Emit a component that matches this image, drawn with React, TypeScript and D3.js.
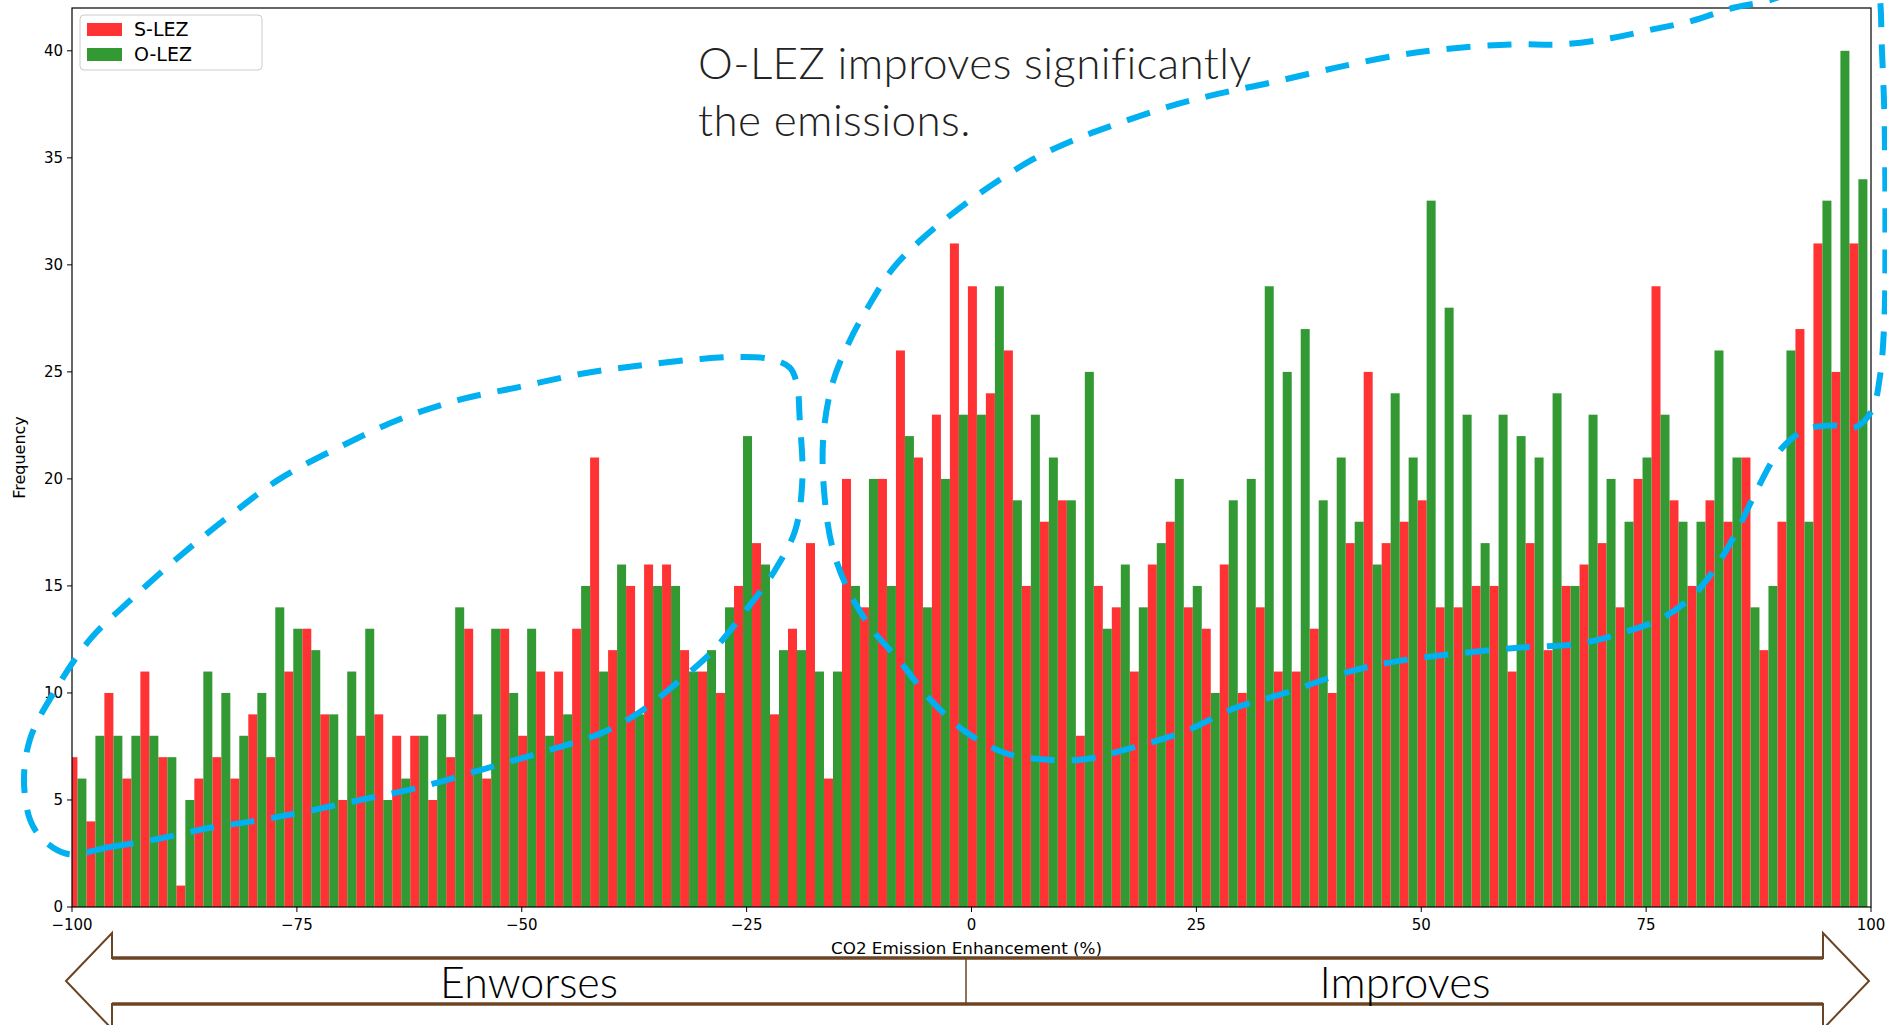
import React from 'react';
import * as d3 from 'd3';

// ---------- data ----------
const binStart = -100.4;
const binWidth = 2;
const sLez = [
  7, 4, 10, 6, 11, 7, 1, 6, 7, 6,
  9, 7, 11, 13, 9, 5, 8, 9, 8, 8,
  5, 7, 13, 6, 13, 8, 11, 11, 13, 21,
  12, 15, 16, 16, 12, 11, 10, 15, 17, 9,
  13, 17, 6, 20, 14, 20, 26, 21, 23, 31,
  29, 24, 26, 15, 18, 19, 8, 15, 14, 11,
  16, 18, 14, 13, 16, 10, 14, 11, 11, 13,
  10, 17, 25, 17, 18, 19, 14, 14, 15, 15,
  11, 17, 12, 15, 16, 17, 14, 20, 29, 19,
  15, 19, 18, 21, 12, 18, 27, 31, 25, 31,
];
const oLez = [
  6, 8, 8, 8, 8, 7, 5, 11, 10, 8,
  10, 14, 13, 12, 9, 11, 13, 5, 6, 8,
  9, 14, 9, 13, 10, 13, 8, 9, 15, 11,
  16, 9, 15, 15, 11, 12, 14, 22, 16, 12,
  12, 11, 11, 15, 20, 15, 22, 14, 20, 23,
  23, 29, 19, 23, 21, 19, 25, 13, 16, 14,
  17, 20, 15, 10, 19, 20, 29, 25, 27, 19,
  21, 18, 16, 24, 21, 33, 28, 23, 17, 23,
  22, 21, 24, 15, 23, 20, 18, 21, 23, 18,
  18, 26, 21, 14, 15, 26, 18, 33, 40, 34,
];
const seriesNames = ['S-LEZ', 'O-LEZ'];
const seriesColors = ['#ff3333', '#339933'];
const xTicks = [-100, -75, -50, -25, 0, 25, 50, 75, 100];
const yTicks = [0, 5, 10, 15, 20, 25, 30, 35, 40];
const xLabel = 'CO2 Emission Enhancement (%)';
const yLabel = 'Frequency';
const noteLines = ['O-LEZ improves significantly', 'the emissions.'];
const arrowLabels = ['Enworses', 'Improves'];

// hand-drawn annotation loops, in data units (x: %, y: frequency)
const leftLoop: [number, number][] = [
  [-100.7, 2.5], [-95.8, 2.8], [-90.2, 3.2], [-84.7, 3.7], [-80.0, 4.0], [-74.7, 4.4],
  [-68.0, 5.0], [-61.3, 5.6], [-54.6, 6.4], [-48.0, 7.2], [-41.3, 8.1], [-36.9, 9.1],
  [-32.4, 10.6], [-28.9, 11.9], [-25.2, 13.8], [-21.9, 15.7], [-19.6, 17.6], [-18.8, 20.0],
  [-19.1, 22.8], [-19.4, 24.4], [-20.2, 25.2], [-22.4, 25.6], [-25.7, 25.7], [-30.2, 25.6],
  [-36.9, 25.3], [-43.5, 24.9], [-50.2, 24.3], [-56.9, 23.7], [-63.5, 22.8], [-70.2, 21.5],
  [-76.9, 20.0], [-82.4, 18.3], [-88.0, 16.4], [-93.6, 14.3], [-98.0, 12.5], [-101.9, 10.1],
  [-104.7, 7.8], [-105.3, 5.5], [-104.1, 3.6],
];
const rightLoop: [number, number][] = [
  [95.4, 43.5], [89.0, 42.4], [84.6, 42.0], [80.1, 41.4], [75.7, 41.0], [71.2, 40.6],
  [65.7, 40.3], [60.1, 40.3], [53.1, 40.1], [47.5, 39.8], [40.4, 39.2], [33.1, 38.5],
  [27.5, 38.0], [22.0, 37.4], [15.6, 36.5], [11.2, 35.8], [6.7, 34.9], [0.1, 33.1],
  [-5.8, 31.1], [-8.8, 29.8], [-11.4, 28.1], [-13.6, 26.4], [-15.5, 24.4], [-16.5, 21.8],
  [-16.3, 19.0], [-15.4, 16.7], [-13.7, 14.8], [-11.1, 13.0], [-8.0, 11.5], [-4.6, 9.7],
  [-0.7, 8.2], [3.7, 7.2], [7.8, 6.9], [12.6, 6.9], [17.5, 7.4], [23.7, 8.2], [29.3, 9.3],
  [34.9, 10.0], [42.0, 11.0], [47.5, 11.5], [53.1, 11.8], [60.4, 12.1], [67.5, 12.3],
  [72.3, 12.8], [76.8, 13.5], [80.1, 14.5], [82.3, 15.6], [84.9, 17.4], [87.1, 19.3],
  [89.8, 21.3], [92.7, 22.3], [95.7, 22.5], [98.2, 22.4], [100.1, 23.2], [101.0, 24.8],
  [101.5, 27.6], [101.6, 31.4], [101.5, 36.9], [101.2, 40.2], [101.0, 42.4], [100.4, 43.8],
];

// ---------- layout ----------
const W = 1887;
const H = 1025;
const plot = { left: 72, right: 1871, top: 8, bottom: 907 };
const arrow = { tipL: 66, baseL: 112, baseR: 1823, tipR: 1869, mid: 981, headHalf: 48, shaftHalf: 23, divider: 966 };

export default function App() {
  const x = d3.scaleLinear().domain([-100, 100]).range([plot.left, plot.right]);
  const y = d3.scaleLinear().domain([0, 42]).range([plot.bottom, plot.top]);
  const fmt = d3.format('d');
  const series = [sLez, oLez];
  const half = binWidth / 2;

  const leftPath = d3.line<[number, number]>().x(d => x(d[0])).y(d => y(d[1]))
    .curve(d3.curveCatmullRomClosed.alpha(0.5))(leftLoop) || '';
  const rightPath = d3.line<[number, number]>().x(d => x(d[0])).y(d => y(d[1]))
    .curve(d3.curveCatmullRom.alpha(0.5))(rightLoop) || '';

  const a = arrow;
  const arrowOutline = [
    [a.tipL, a.mid], [a.baseL, a.mid - a.headHalf], [a.baseL, a.mid - a.shaftHalf],
    [a.baseR, a.mid - a.shaftHalf], [a.baseR, a.mid - a.headHalf], [a.tipR, a.mid],
    [a.baseR, a.mid + a.headHalf], [a.baseR, a.mid + a.shaftHalf], [a.baseL, a.mid + a.shaftHalf],
    [a.baseL, a.mid + a.headHalf],
  ].map(p => p.join(',')).join(' ');

  const tickFont = 'DejaVu Sans, sans-serif';
  const thinFont = "Lato, 'Open Sans', sans-serif";

  return (
    <div>
      <style>{'body{margin:0}'}</style>
      <svg width={W} height={H} style={{ display: 'block', background: '#fff' }}>
        <defs>
          <clipPath id="plotclip">
            <rect x={plot.left} y={plot.top} width={plot.right - plot.left} height={plot.bottom - plot.top} />
          </clipPath>
        </defs>

        {/* bars */}
        <g clipPath="url(#plotclip)">
          {series.map((vals, s) =>
            vals.map((v, k) => {
              const x0 = binStart + binWidth * k + s * half;
              return (
                <rect
                  key={`${s}-${k}`}
                  x={x(x0)}
                  y={y(v)}
                  width={x(x0 + half) - x(x0)}
                  height={y(0) - y(v)}
                  fill={seriesColors[s]}
                />
              );
            })
          )}
        </g>

        {/* frame */}
        <rect x={plot.left} y={plot.top} width={plot.right - plot.left} height={plot.bottom - plot.top}
          fill="none" stroke="#000" strokeWidth={1.2} />

        {/* x ticks */}
        {xTicks.map(t => (
          <g key={`xt${t}`}>
            <line x1={x(t)} x2={x(t)} y1={plot.bottom} y2={plot.bottom + 5} stroke="#000" strokeWidth={1} />
            <text x={x(t)} y={plot.bottom + 23} textAnchor="middle" fontFamily={tickFont} fontSize={15} fill="#000">
              {fmt(t)}
            </text>
          </g>
        ))}
        {/* y ticks */}
        {yTicks.map(t => (
          <g key={`yt${t}`}>
            <line x1={plot.left - 5} x2={plot.left} y1={y(t)} y2={y(t)} stroke="#000" strokeWidth={1} />
            <text x={plot.left - 9} y={y(t)} dy="0.35em" textAnchor="end" fontFamily={tickFont} fontSize={15} fill="#000">
              {fmt(t)}
            </text>
          </g>
        ))}
        <text x={(plot.left + plot.right) / 2 - 5} y={954} textAnchor="middle" fontFamily={tickFont} fontSize={15}
          textLength={271} lengthAdjust="spacingAndGlyphs" fill="#000">
          {xLabel}
        </text>
        <text transform={`translate(25,${(plot.top + plot.bottom) / 2}) rotate(-90)`} textAnchor="middle"
          fontFamily={tickFont} fontSize={16} fill="#000">
          {yLabel}
        </text>

        {/* legend */}
        <g>
          <rect x={80} y={15} width={182} height={55} rx={4} fill="#fff" fillOpacity={0.8} stroke="#cccccc" />
          {seriesNames.map((n, i) => (
            <g key={n}>
              <rect x={87} y={23 + i * 25} width={35} height={13} fill={seriesColors[i]} />
              <text x={134} y={36 + i * 25} fontFamily={tickFont} fontSize={19} fill="#000">{n}</text>
            </g>
          ))}
        </g>

        {/* annotation note */}
        {noteLines.map((t, i) => (
          <text key={t} x={698} y={79 + i * 57} fontFamily={thinFont} fontWeight={300}
            fontSize={44} letterSpacing={0.4} fill="#222">
            {t}
          </text>
        ))}

        {/* dashed loops */}
        <path d={leftPath} fill="none" stroke="#00b0f0" strokeWidth={6} strokeDasharray="24 17" />
        <path d={rightPath} fill="none" stroke="#00b0f0" strokeWidth={6} strokeDasharray="24 17" />

        {/* bottom double arrow */}
        <polygon points={arrowOutline} fill="#fff" stroke="#6b4423" strokeWidth={2} strokeLinejoin="miter" />
        <line x1={a.baseL} x2={a.baseR} y1={a.mid - a.shaftHalf} y2={a.mid - a.shaftHalf} stroke="#6b4423" strokeWidth={3.5} />
        <line x1={a.baseL} x2={a.baseR} y1={a.mid + a.shaftHalf} y2={a.mid + a.shaftHalf} stroke="#6b4423" strokeWidth={3.5} />
        <line x1={a.divider} x2={a.divider} y1={a.mid - a.shaftHalf} y2={a.mid + a.shaftHalf} stroke="#6b4423" strokeWidth={1.5} />
        <text x={529} y={998} textAnchor="middle" fontFamily={thinFont}
          fontWeight={300} fontSize={44} textLength={178} lengthAdjust="spacingAndGlyphs" fill="#000">
          {arrowLabels[0]}
        </text>
        <text x={1405} y={998} textAnchor="middle" fontFamily={thinFont}
          fontWeight={300} fontSize={44} textLength={171} lengthAdjust="spacingAndGlyphs" fill="#000">
          {arrowLabels[1]}
        </text>
      </svg>
    </div>
  );
}
